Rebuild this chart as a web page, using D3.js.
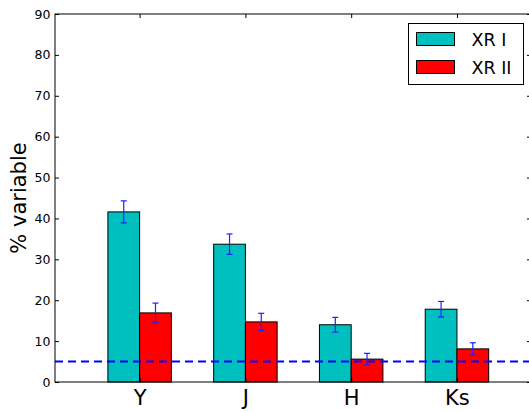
<!DOCTYPE html>
<html><head><meta charset="utf-8">
<script src="https://cdn.jsdelivr.net/npm/d3@7"></script>
<style>body{margin:0;background:#fff}svg{display:block}</style>
</head><body>
<script>
const categories = ["Y", "J", "H", "Ks"];
const seriesNames = ["XR I", "XR II"];
const xr1Values = [41.6, 33.7, 14.0, 17.8];
const xr1Errors = [2.7, 2.5, 1.8, 1.9];
const xr2Values = [16.9, 14.7, 5.6, 8.1];
const xr2Errors = [2.4, 2.1, 1.4, 1.5];
const threshold = 5;
const yTicks = [0, 10, 20, 30, 40, 50, 60, 70, 80, 90];
const colors = ["#00BFBF", "#FF0000"];

const W = 529, H = 412;
const m = {left: 55, top: 14, right: 531, bottom: 382};
const svg = d3.select("body").append("svg").attr("width", W).attr("height", H);

const x = d3.scaleLinear().domain([-0.5, 4.0]).range([m.left, m.right]);
const y = d3.scaleLinear().domain([0, 90]).range([m.bottom, m.top]);
const bw = 0.3;

const series = [
  {vals: xr1Values, errs: xr1Errors, off: 0},
  {vals: xr2Values, errs: xr2Errors, off: bw}
];

// bars
series.forEach((s, si) => {
  svg.append("g").selectAll("rect").data(s.vals).join("rect")
    .attr("x", (d, i) => x(i + s.off))
    .attr("width", x(bw) - x(0))
    .attr("y", d => y(d))
    .attr("height", d => y(0) - y(d))
    .attr("fill", colors[si])
    .attr("stroke", "#000").attr("stroke-width", 1);
});

// threshold dashed line
svg.append("line")
  .attr("x1", m.left).attr("x2", m.right)
  .attr("y1", y(threshold)).attr("y2", y(threshold))
  .attr("stroke", "#0000FF").attr("stroke-width", 2)
  .attr("stroke-dasharray", "8,5");

// error bars
series.forEach((s) => {
  const g = svg.append("g").attr("stroke", "#2020FF").attr("stroke-width", 1.2);
  s.vals.forEach((v, i) => {
    const cx = x(i + s.off + bw / 2);
    g.append("line").attr("x1", cx).attr("x2", cx).attr("y1", y(v - s.errs[i])).attr("y2", y(v + s.errs[i]));
    [v - s.errs[i], v + s.errs[i]].forEach(e => {
      g.append("line").attr("x1", cx - 3).attr("x2", cx + 3).attr("y1", y(e)).attr("y2", y(e));
    });
  });
});

// frame
svg.append("rect").attr("x", m.left).attr("y", m.top)
  .attr("width", m.right - m.left).attr("height", m.bottom - m.top)
  .attr("fill", "none").attr("stroke", "#000").attr("stroke-width", 1);

// y axis left
const yAxis = d3.axisLeft(y).tickValues(yTicks).tickSizeInner(-4).tickSizeOuter(0).tickPadding(4.5);
const gy = svg.append("g").attr("transform", `translate(${m.left},0)`).call(yAxis);
gy.select(".domain").remove();
gy.selectAll("text").attr("font-family", "DejaVu Sans").attr("font-size", 12.5).attr("fill", "#000");
gy.selectAll("line").attr("stroke", "#000");

// y axis right ticks
const gyr = svg.append("g").attr("transform", `translate(${m.right},0)`)
  .call(d3.axisRight(y).tickValues(yTicks).tickSizeInner(-4).tickSizeOuter(0).tickFormat(""));
gyr.select(".domain").remove();
gyr.selectAll("line").attr("stroke", "#000");

// x axis bottom
const xAxis = d3.axisBottom(x).tickValues(categories.map((c, i) => i + bw))
  .tickFormat((d, i) => categories[i]).tickSizeInner(-4).tickSizeOuter(0).tickPadding(8);
const gx = svg.append("g").attr("transform", `translate(0,${m.bottom})`).call(xAxis);
gx.select(".domain").remove();
gx.selectAll("text").attr("font-family", "DejaVu Sans").attr("font-size", 21).attr("fill", "#000");
gx.selectAll("line").attr("stroke", "#000");

// x axis top ticks
const gxt = svg.append("g").attr("transform", `translate(0,${m.top})`)
  .call(d3.axisTop(x).tickValues(categories.map((c, i) => i + bw)).tickSizeInner(-4).tickSizeOuter(0).tickFormat(""));
gxt.select(".domain").remove();
gxt.selectAll("line").attr("stroke", "#000");

// y label
svg.append("text")
  .attr("transform", `translate(26,${(m.top + m.bottom) / 2}) rotate(-90)`)
  .attr("text-anchor", "middle")
  .attr("font-family", "DejaVu Sans").attr("font-size", 21)
  .text("% variable");

// legend
const lg = svg.append("g");
lg.append("rect").attr("x", 408.5).attr("y", 23.5).attr("width", 115).attr("height", 61)
  .attr("fill", "#fff").attr("stroke", "#000").attr("stroke-width", 1);
seriesNames.forEach((n, i) => {
  const yy = 32.5 + i * 28;
  lg.append("rect").attr("x", 416.5).attr("y", yy).attr("width", 38).attr("height", 13)
    .attr("fill", colors[i]).attr("stroke", "#000").attr("stroke-width", 1);
  lg.append("text").attr("x", 471.5).attr("y", yy + 13)
    .attr("font-family", "DejaVu Sans").attr("font-size", 17.5).text(n);
});
</script>
</body></html>
